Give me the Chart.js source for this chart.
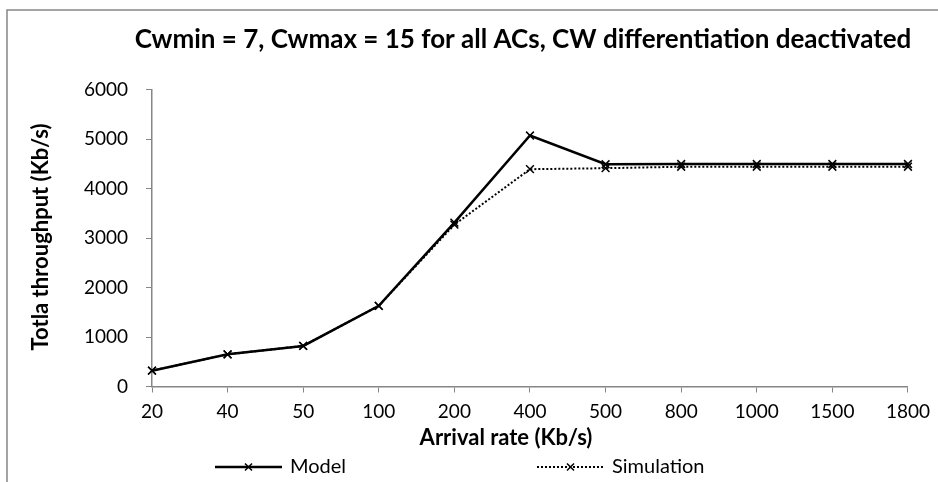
<!DOCTYPE html>
<html>
<head>
<meta charset="utf-8">
<script src="https://cdn.jsdelivr.net/npm/chart.js"></script>
<style>
  html, body { margin: 0; padding: 0; background: #ffffff; overflow: hidden; }
  #wrap { position: relative; width: 938px; height: 482px; }
</style>
</head>
<body>
<div id="wrap"><canvas id="chart" width="938" height="482"></canvas></div>
<script>
// Chart data
const arrivalRates = ['20', '40', '50', '100', '200', '400', '500', '800', '1000', '1500', '1800'];
const modelThroughput = [320, 650, 820, 1630, 3310, 5070, 4490, 4495, 4495, 4495, 4495];
const simulationThroughput = [320, 650, 820, 1630, 3270, 4390, 4410, 4440, 4440, 4440, 4440];
const yTicks = [0, 1000, 2000, 3000, 4000, 5000, 6000];

const chartTitle = 'Cwmin = 7, Cwmax = 15 for all ACs, CW differentiation deactivated';
const xTitle = 'Arrival rate (Kb/s)';
const yTitle = 'Totla throughput (Kb/s)';

const FONT = 'Lato, "Open Sans", sans-serif';
const AXIS_GREY = '#868686';

// Outer frame, titles and the Excel style legend
const decorations = {
  id: 'decorations',
  beforeDraw(chart) {
    const ctx = chart.ctx;
    ctx.save();
    ctx.fillStyle = '#ffffff';
    ctx.fillRect(0, 0, chart.width, chart.height);
    ctx.strokeStyle = AXIS_GREY;
    ctx.lineWidth = 1.5;
    ctx.strokeRect(7, 10, chart.width + 20, chart.height + 20);
    ctx.restore();
  },
  afterDraw(chart) {
    const ctx = chart.ctx;
    ctx.save();
    ctx.fillStyle = '#000000';
    ctx.textAlign = 'center';
    ctx.textBaseline = 'middle';
    ctx.font = 'bold 26px ' + FONT;
    ctx.fillText(chartTitle, 523, 40);

    ctx.font = 'bold 22px ' + FONT;
    ctx.fillText(xTitle, 506, 438);

    ctx.translate(41, 237);
    ctx.rotate(-Math.PI / 2);
    ctx.fillText(yTitle, 0, 0);
    ctx.restore();

    // legend
    const items = [
      { label: 'Model', x0: 215, x1: 282, dash: [], width: 2.5 },
      { label: 'Simulation', x0: 537, x1: 604, dash: [2, 2], width: 2 }
    ];
    const y = 467;
    items.forEach(it => {
      ctx.save();
      ctx.strokeStyle = '#000000';
      ctx.lineWidth = it.width;
      ctx.setLineDash(it.dash);
      ctx.beginPath();
      ctx.moveTo(it.x0, y);
      ctx.lineTo(it.x1, y);
      ctx.stroke();
      ctx.setLineDash([]);
      ctx.lineWidth = 1.5;
      const mx = (it.x0 + it.x1) / 2, r = 3.5;
      ctx.beginPath();
      ctx.moveTo(mx - r, y - r); ctx.lineTo(mx + r, y + r);
      ctx.moveTo(mx - r, y + r); ctx.lineTo(mx + r, y - r);
      ctx.stroke();
      ctx.fillStyle = '#000000';
      ctx.font = '20px ' + FONT;
      ctx.textAlign = 'left';
      ctx.textBaseline = 'middle';
      ctx.fillText(it.label, it.x1 + 8, y);
      ctx.restore();
    });
  }
};

new Chart(document.getElementById('chart').getContext('2d'), {
  type: 'line',
  data: {
    labels: arrivalRates,
    datasets: [
      {
        label: 'Model',
        data: modelThroughput,
        borderColor: '#000000',
        borderWidth: 2.5,
        pointStyle: 'crossRot',
        pointRadius: 5.5,
        pointBorderWidth: 1.5,
        pointBorderColor: '#000000',
        tension: 0
      },
      {
        label: 'Simulation',
        data: simulationThroughput,
        borderColor: '#000000',
        borderWidth: 2,
        borderDash: [2, 2],
        pointStyle: 'crossRot',
        pointRadius: 5.5,
        pointBorderWidth: 1.5,
        pointBorderColor: '#000000',
        tension: 0
      }
    ]
  },
  options: {
    responsive: false,
    animation: false,
    layout: { padding: { left: 0, right: 30, top: 89.5, bottom: 60 } },
    plugins: {
      legend: { display: false },
      tooltip: { enabled: false },
      title: { display: false }
    },
    scales: {
      x: {
        offset: false,
        grid: { drawOnChartArea: false, drawTicks: true, tickLength: 6, color: AXIS_GREY },
        border: { color: AXIS_GREY, width: 1.5 },
        ticks: { color: '#000000', font: { family: FONT, size: 19 }, padding: 8, maxRotation: 0, autoSkip: false },
        afterFit(scale) { scale.height = 35.5; }
      },
      y: {
        min: 0,
        max: 6000,
        afterBuildTicks(scale) { scale.ticks = yTicks.map(v => ({ value: v })); },
        grid: { drawOnChartArea: false, drawTicks: true, tickLength: 6, color: AXIS_GREY },
        border: { color: AXIS_GREY, width: 1.5 },
        ticks: {
          color: '#000000',
          font: { family: FONT, size: 19 },
          padding: 18,
          callback: v => String(v)
        },
        afterFit(scale) { scale.width = 152; }
      }
    }
  },
  plugins: [decorations]
});
</script>
</body>
</html>
